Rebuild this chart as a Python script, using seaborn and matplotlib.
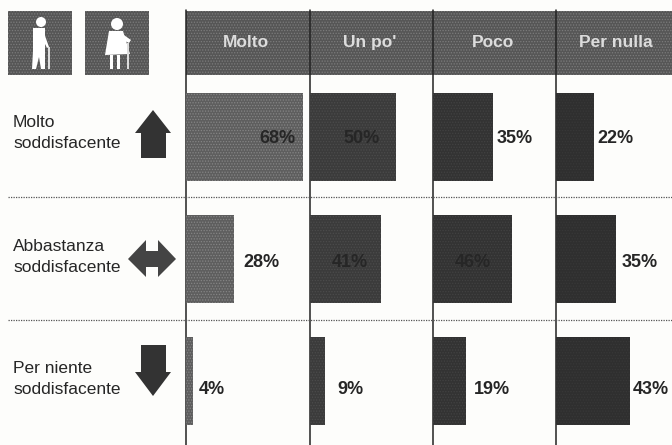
import matplotlib
matplotlib.use("Agg")
import matplotlib.pyplot as plt
from matplotlib.patches import Circle, Polygon, Rectangle
import pandas as pd
import seaborn as sns

sns.set_style("white")
plt.rcParams["font.family"] = ["Liberation Sans", "DejaVu Sans"]
plt.rcParams["hatch.linewidth"] = 0.6

W, H = 672, 445
PX_PER_PCT = 1.72

# Chart data
groups = ["Molto", "Un po'", "Poco", "Per nulla"]
answers = ["Molto\nsoddisfacente", "Abbastanza\nsoddisfacente", "Per niente\nsoddisfacente"]
molto = [68, 28, 4]
un_po = [50, 41, 9]
poco = [35, 46, 19]
per_nulla = [22, 35, 43]

# Panel styling (left edge in pixels, bar colour, label gap in pixels from bar end)
panel_left = [186, 310, 433, 556]
panel_colors = ["#5e5e5e", "#3b3b3b", "#333333", "#2f2f2f"]
panel_hatch_colors = ["#858585", "#4c4c4c", "#424242", "#383838"]
label_gaps = [[-7, 9, 6], [-16, -13, 12], [3, -21, 8], [4, 5, 3]]
label_drop = [2, 4, 9]  # labels sit a bit under the bar centre, more so further down
INK = "#262626"
HEADER = "#565656"
HEADER_HATCH = "#7c7c7c"


def _long_table():
    series = [molto, un_po, poco, per_nulla]
    rows = []
    for group, values in zip(groups, series):
        for answer, value in zip(answers, values):
            rows.append({"group": group, "answer": answer, "value": value})
    return pd.DataFrame(rows)


def _pixel_axes(fig, left, top, right, bottom):
    # Axes placed with pixel positions, measured from the top left
    return fig.add_axes([left / W, 1 - bottom / H, (right - left) / W, (bottom - top) / H])


def _draw_panel(fig, data, left, right, color, hatch_color, gaps):
    ax = _pixel_axes(fig, left, 75, right, H)
    sns.barplot(
        data=data, x="value", y="answer", order=answers, color=color,
        saturation=1, width=0.72, orient="h", linewidth=0, ax=ax,
    )
    for bar in ax.patches:
        bar.set_hatch("......")
        bar.set_edgecolor(hatch_color)
    ax.set_xlim(0, (right - left) / PX_PER_PCT)
    ax.set_ylim(2.525, -0.504)
    ax.axis("off")
    ax.patch.set_alpha(0)

    # Labels with a negative gap sit inside the bar, nearly lost in the print
    for i, (value, gap) in enumerate(zip(data["value"], gaps)):
        ax.annotate(
            f"{value}%", (value, i), xytext=(gap * 0.72, -label_drop[i] * 0.72),
            textcoords="offset points", ha="left" if gap > 0 else "right", va="center",
            fontsize=13, fontweight="bold", color=INK, annotation_clip=False,
        )


def _tile(ax, x0):
    ax.add_patch(Rectangle(
        (x0, 11), 64, 64, facecolor=HEADER, edgecolor=HEADER_HATCH, hatch="......", lw=0,
    ))


def _draw_person(ax, x0, stooped):
    # White figure on a grey tile
    _tile(ax, x0)
    if stooped:
        ax.add_patch(Circle((x0 + 32, 24), 6, color="white", lw=0))
        ax.add_patch(Polygon(
            [(x0 + 24, 31), (x0 + 38, 31), (x0 + 45, 54), (x0 + 20, 55)], color="white", lw=0,
        ))
        ax.add_patch(Polygon(
            [(x0 + 36, 33), (x0 + 46, 40), (x0 + 44, 43), (x0 + 34, 38)], color="white", lw=0,
        ))
        ax.add_patch(Rectangle((x0 + 25, 55), 3, 14, color="white", lw=0))
        ax.add_patch(Rectangle((x0 + 32, 55), 3, 14, color="white", lw=0))
        ax.add_patch(Rectangle((x0 + 42, 43), 2, 26, color="#dddddd", lw=0))
    else:
        ax.add_patch(Circle((x0 + 33, 22), 5, color="white", lw=0))
        ax.add_patch(Rectangle((x0 + 25, 28), 12, 23, color="white", lw=0))
        ax.add_patch(Polygon(
            [(x0 + 36, 33), (x0 + 41, 47), (x0 + 39, 48), (x0 + 34, 38)], color="white", lw=0,
        ))
        ax.add_patch(Polygon(
            [(x0 + 25, 51), (x0 + 37, 51), (x0 + 37, 69), (x0 + 33, 69), (x0 + 31, 57),
             (x0 + 28, 69), (x0 + 24, 69)], color="white", lw=0,
        ))
        ax.add_patch(Rectangle((x0 + 40, 47), 2, 22, color="#dddddd", lw=0))


def main():
    table = _long_table()
    fig = plt.figure(figsize=(W / 100, H / 100), dpi=100, facecolor="#fdfdfb")

    # Pixel overlay for header, rules, arrows and row labels
    bg = fig.add_axes([0, 0, 1, 1])
    bg.set_xlim(0, W)
    bg.set_ylim(H, 0)
    bg.axis("off")

    bg.add_patch(Rectangle(
        (186, 11), W - 186, 64, facecolor=HEADER, edgecolor=HEADER_HATCH, hatch="......", lw=0,
    ))
    for left, group in zip(panel_left, groups):
        bg.text(left + 60, 47, group, ha="center", va="baseline", color="#dcdcdc",
                fontsize=12.5, fontweight="bold")
        bg.plot([left, left], [10, H], color="#222222", lw=1.1)

    for y in [197, 320]:
        bg.plot([8, W], [y, y], color="#555555", lw=0.9, ls=(0, (1, 1)))

    _draw_person(bg, 8, False)
    _draw_person(bg, 85, True)

    # Row labels and arrows
    label_y = [133, 257, 379]
    for answer, y in zip(answers, label_y):
        bg.text(13, y, answer, ha="left", va="center", color=INK, fontsize=12.5, linespacing=1.55)
    bg.add_patch(Polygon(
        [(135, 133), (153, 110), (171, 133), (166, 133), (166, 158), (141, 158), (141, 133)],
        color="#333333", lw=0,
    ))
    bg.add_patch(Polygon(
        [(128, 259), (146, 240), (146, 251), (158, 251), (158, 240), (176, 259),
         (158, 277), (158, 267), (146, 267), (146, 277)],
        color="#444444", lw=0,
    ))
    bg.add_patch(Polygon(
        [(141, 345), (166, 345), (166, 372), (171, 372), (153, 396), (135, 372), (141, 372)],
        color="#333333", lw=0,
    ))

    # One bar panel per group
    for group, left, color, hatch_color, gaps in zip(
        groups, panel_left, panel_colors, panel_hatch_colors, label_gaps,
    ):
        right = min(left + 123, W)
        _draw_panel(fig, table[table["group"] == group], left, right, color, hatch_color, gaps)

    fig.savefig("out.png", dpi=100, facecolor=fig.get_facecolor())


if __name__ == "__main__":
    main()
